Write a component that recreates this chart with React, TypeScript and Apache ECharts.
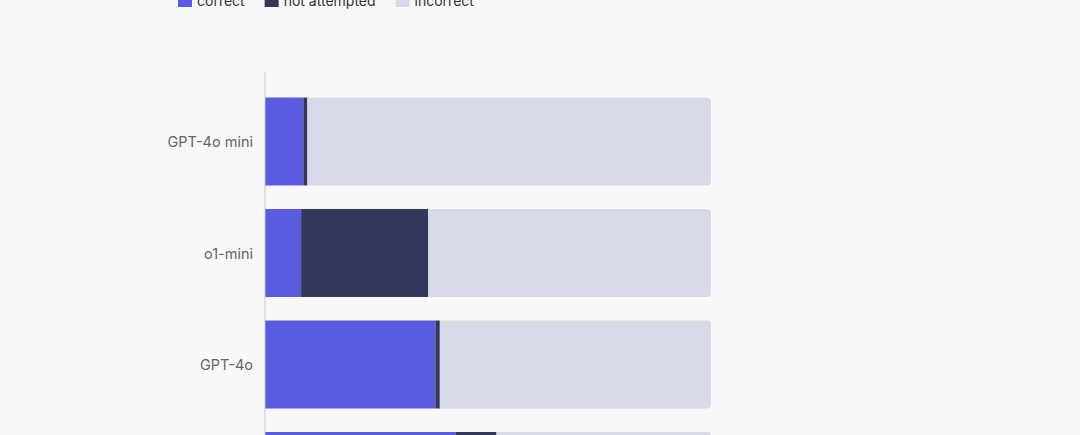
import React, { useEffect, useRef } from 'react';
import * as echarts from 'echarts';

// SimpleQA results, percent of questions
const models = ['GPT-4o mini', 'o1-mini', 'GPT-4o', 'o1-preview'];
const correct = [8.6, 8.1, 38.2, 42.7];
const notAttempted = [0.9, 28.5, 1.0, 9.2];
const incorrect = [90.5, 63.4, 60.8, 48.1];

const App = () => {
  const chartRef = useRef<HTMLDivElement>(null);

  useEffect(() => {
    // the chart runs past the bottom of the window, as in the cropped original
    const myChart = echarts.init(chartRef.current, null, { renderer: 'svg' });

    const option = {
      animation: false,
      backgroundColor: '#f8f8f8',
      textStyle: { fontFamily: 'Inter, "Noto Sans", sans-serif' },
      legend: {
        top: -12,
        left: 173,
        itemWidth: 14,
        itemHeight: 14,
        itemGap: 20,
        icon: 'rect',
        textStyle: { fontSize: 14, color: '#333' },
        data: ['correct', 'not attempted', 'incorrect'],
      },
      grid: { left: 265, width: 446, top: 85.75, height: 446 },
      xAxis: {
        type: 'value',
        min: 0,
        max: 100,
        show: false,
      },
      yAxis: {
        type: 'category',
        inverse: true,
        data: models,
        axisLine: { show: false },
        axisTick: { show: false },
        axisLabel: { margin: 12, fontSize: 14.5, color: '#666' },
      },
      graphic: [
        {
          type: 'line',
          shape: { x1: 265, y1: 72, x2: 265, y2: 600 },
          style: { stroke: '#c8c8c8', lineWidth: 1 },
          z: 10,
        },
      ],
      series: [
        {
          name: 'correct',
          type: 'bar',
          stack: 'total',
          barWidth: 88,
          data: correct,
          itemStyle: { color: '#5b5be0' },
        },
        {
          name: 'not attempted',
          type: 'bar',
          stack: 'total',
          data: notAttempted,
          itemStyle: { color: '#35375a' },
        },
        {
          name: 'incorrect',
          type: 'bar',
          stack: 'total',
          data: incorrect,
          itemStyle: { color: '#d8dae8', borderRadius: [0, 4, 4, 0] },
        },
      ],
    };

    myChart.setOption(option);

    return () => {
      myChart.dispose();
    };
  }, []);

  return (
    <div
      ref={chartRef}
      style={{ position: 'fixed', left: 0, top: 0, width: '1080px', height: '600px' }}
    />
  );
};

export default App;
